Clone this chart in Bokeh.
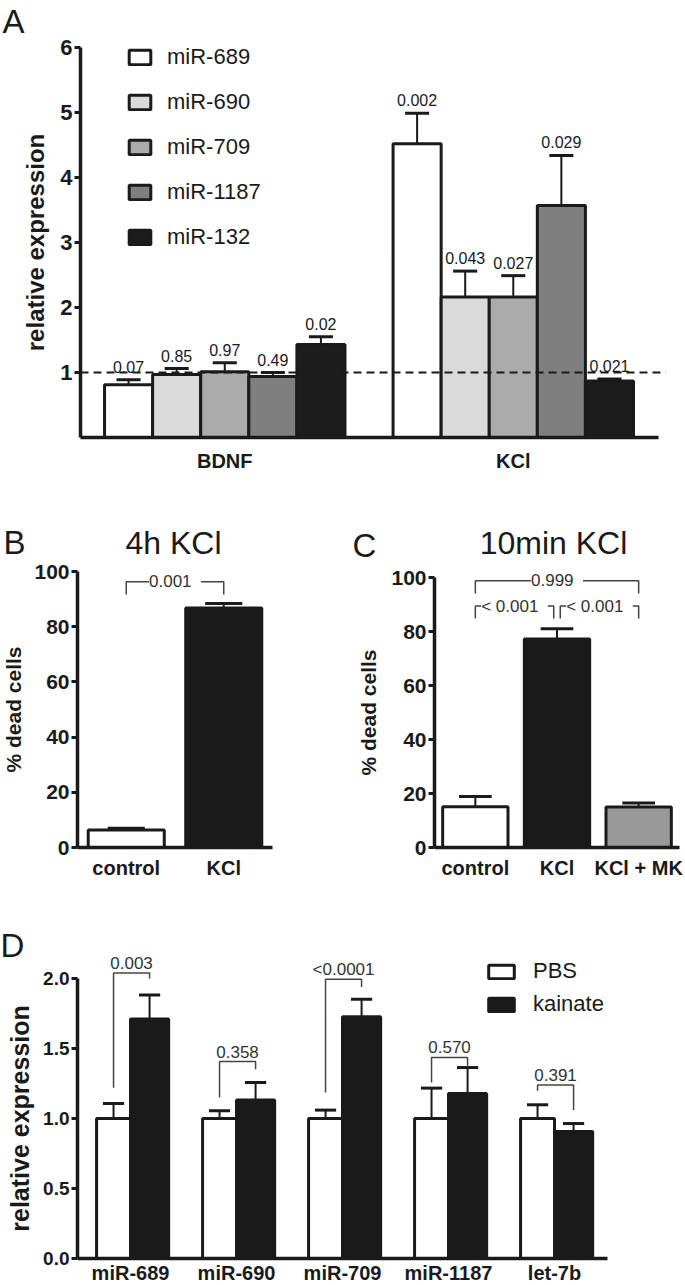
from bokeh.plotting import figure
from bokeh.models import (ColumnDataSource, FixedTicker, LabelSet, Label,
                          Legend, LegendItem, Range1d)
from bokeh.layouts import column, row
from bokeh.core.properties import value
from bokeh.embed import file_html
from bokeh.resources import INLINE

FONT = "Liberation Sans"
INK = "#1a1a1a"

# ---------------- data ----------------
# Panel A
a_groups = ["BDNF", "KCl"]
a_series = ["miR-689", "miR-690", "miR-709", "miR-1187", "miR-132"]
a_colors = ["#ffffff", "#dadada", "#ababab", "#7f7f7f", "#1c1c1c"]
a_bdnf_mean = [0.81, 0.97, 1.01, 0.94, 1.43]
a_bdnf_top = [0.89, 1.06, 1.15, 1.00, 1.55]
a_bdnf_p = ["0.07", "0.85", "0.97", "0.49", "0.02"]
a_kcl_mean = [4.52, 2.16, 2.16, 3.57, 0.87]
a_kcl_top = [4.99, 2.56, 2.49, 4.34, 0.90]
a_kcl_p = ["0.002", "0.043", "0.027", "0.029", "0.021"]
a_yticks = [1, 2, 3, 4, 5, 6]
a_ref = 1.0

# Panel B
b_conditions = ["control", "KCl"]
b_mean = [6.3, 86.8]
b_top = [7.0, 88.4]
b_colors = ["#ffffff", "#1a1a1a"]
b_br_left = ["control"]
b_br_right = ["KCl"]
b_br_y = [96.3]
b_br_leg = [91.7]
b_br_p = ["0.001"]

# Panel C
c_conditions = ["control", "KCl", "KCl + MK"]
c_mean = [15.1, 77.2, 15.0]
c_top = [18.9, 81.0, 16.5]
c_colors = ["#ffffff", "#1a1a1a", "#999999"]
c_br_left = ["control", "control", "KCl"]
c_br_right = ["KCl + MK", "KCl", "KCl + MK"]
c_br_y = [98.8, 89.4, 89.4]
c_br_leg = [94.1, 84.8, 84.8]
c_br_p = ["0.999", "< 0.001", "< 0.001"]
bc_yticks = [0, 20, 40, 60, 80, 100]

# Panel D
d_mirs = ["miR-689", "miR-690", "miR-709", "miR-1187", "let-7b"]
d_pbs_mean = [1.00, 1.00, 1.00, 1.00, 1.00]
d_pbs_top = [1.107, 1.055, 1.06, 1.217, 1.098]
d_kai_mean = [1.71, 1.133, 1.726, 1.179, 0.907]
d_kai_top = [1.883, 1.257, 1.852, 1.364, 0.964]
d_p = ["0.003", "0.358", "<0.0001", "0.570", "0.391"]
d_br_top = [2.04, 1.407, 1.995, 1.436, 1.24]
d_br_left_end = [1.22, 1.15, 1.186, 1.257, 1.198]
d_br_right_end = [2.0, 1.352, 1.94, 1.376, 1.06]
d_yticks = [0.0, 0.5, 1.0, 1.5, 2.0]


# ---------------- helpers ----------------
def make_fig(W, H, left, right, top, bottom, x0, x1, y0, y1, tick_size):
    """Figure whose frame fills the canvas; axes are pinned to the data box."""
    pxu = (W - left - right) / (x1 - x0)
    pyu = (H - top - bottom) / (y1 - y0)
    p = figure(width=W, height=H,
               x_range=Range1d(x0 - left / pxu, x1 + right / pxu),
               y_range=Range1d(y0 - bottom / pyu, y1 + top / pyu),
               min_border=0, output_backend="svg", toolbar_location=None)
    p.outline_line_color = None
    p.grid.visible = False
    p.background_fill_color = "white"
    p.border_fill_color = "white"
    p.xaxis.fixed_location = y0
    p.yaxis.fixed_location = x0
    p.xaxis.bounds = (x0, x1)
    p.yaxis.bounds = (y0, y1)
    for ax in p.axis:
        ax.axis_line_width = 3.5
        ax.axis_line_color = INK
        ax.major_tick_line_width = 3
        ax.major_tick_line_color = INK
        ax.major_tick_out = 6
        ax.major_tick_in = 0
        ax.minor_tick_line_color = None
        ax.major_label_text_font = FONT
        ax.major_label_text_font_style = "bold"
        ax.major_label_text_color = INK
        ax.major_label_text_font_size = tick_size
        ax.major_label_standoff = 2
        ax.axis_label_text_font = FONT
        ax.axis_label_text_font_style = "bold"
        ax.axis_label_text_color = INK
    p.xaxis.major_tick_line_color = None
    p.xaxis.major_tick_out = 0
    return p


LBL_SHIFT = 10  # screen-label baseline correction


def screen_label(p, text, x, y, size, align="left"):
    p.add_layout(Label(x=x, y=y + LBL_SHIFT, x_units="screen", y_units="screen", text=text,
                       text_font=FONT, text_font_size=size, text_color=INK,
                       text_align=align, text_baseline="alphabetic"))


def whiskers(p, xs, means, tops, capw, stem_w=2, cap_w=3):
    src = ColumnDataSource(dict(x=xs, m=means, t=tops,
                                xl=[x - capw / 2 for x in xs],
                                xr=[x + capw / 2 for x in xs]))
    p.segment(x0="x", y0="m", x1="x", y1="t", source=src, line_color=INK, line_width=stem_w)
    p.segment(x0="xl", y0="t", x1="xr", y1="t", source=src, line_color=INK, line_width=cap_w)


def cat_xaxis(p, cats, standoff, size):
    ticks = [i + 0.5 for i in range(len(cats))]
    p.xaxis.ticker = FixedTicker(ticks=ticks)
    p.xaxis.major_label_overrides = {t: c for t, c in zip(ticks, cats)}
    p.xaxis.major_label_standoff = standoff
    p.xaxis.major_label_text_font_size = size


def brackets(p, conds, lefts, rights, ys, legs, labels, inner=0.0):
    xs, yss, lx = [], [], []
    for l, r, y, g in zip(lefts, rights, ys, legs):
        xl = conds.index(l) + 0.5
        xr = conds.index(r) + 0.5
        if r == "KCl":
            xr -= inner
        if l == "KCl":
            xl += inner
        xs.append([xl, xl, xr, xr])
        yss.append([g, y, y, g])
        lx.append((xl + xr) / 2)
    p.multi_line(xs="xs", ys="ys", source=ColumnDataSource(dict(xs=xs, ys=yss)),
                 line_color="#444444", line_width=1.5)
    p.add_layout(LabelSet(x="x", y="y", text="t", source=ColumnDataSource(
        dict(x=lx, y=ys, t=[" " + s + " " for s in labels])),
        text_align="center", text_baseline="middle", text_font=value(FONT),
        text_font_size="17px", text_color="#333333",
        background_fill_color="white"))


FW = 685

# ---------------- Panel A ----------------
A_H = 478
nA = len(a_series)
a_x0, a_x1 = -0.5, len(a_groups) * (nA + 1) - 0.48
pA = make_fig(FW, A_H, 80, 27, 47, 41, a_x0, a_x1, 0, 6, "22px")
a_renderers = []
for si, name in enumerate(a_series):
    xs = [gi * (nA + 1) + si + 0.5 for gi in range(len(a_groups))]
    src = ColumnDataSource(dict(x=xs, top=[a_bdnf_mean[si], a_kcl_mean[si]]))
    r = pA.vbar(x="x", top="top", width=1.0, bottom=0, source=src,
                fill_color=a_colors[si], line_color=INK, line_width=3)
    a_renderers.append(r)
a_x = [gi * (nA + 1) + si + 0.5 for gi in range(len(a_groups)) for si in range(nA)]
a_means = a_bdnf_mean + a_kcl_mean
a_tops = a_bdnf_top + a_kcl_top
whiskers(pA, a_x, a_means, a_tops, 0.5)
pA.segment(x0=[a_x0], y0=[a_ref], x1=[a_x1 + 0.15], y1=[a_ref], line_color=INK,
           line_width=2, line_dash="8 5")
pA.add_layout(LabelSet(x="x", y="t", text="p", source=ColumnDataSource(
    dict(x=a_x, t=a_tops, p=a_bdnf_p + a_kcl_p)),
    y_offset=7, text_align="center", text_baseline="alphabetic",
    text_font=value(FONT), text_font_size="16px", text_color=INK))
pA.yaxis.ticker = FixedTicker(ticks=a_yticks)
pA.yaxis.axis_label = "relative expression"
pA.yaxis.axis_label_text_font_size = "24px"
pA.yaxis.axis_label_standoff = 8
pA.xaxis.ticker = FixedTicker(ticks=[gi * (nA + 1) + nA / 2 for gi in range(len(a_groups))])
pA.xaxis.major_label_overrides = {gi * (nA + 1) + nA / 2: g for gi, g in enumerate(a_groups)}
pA.xaxis.major_label_standoff = 12
pA.xaxis.major_label_text_font_size = "20px"
legA = Legend(items=[LegendItem(label=n, renderers=[r]) for n, r in zip(a_series, a_renderers)],
              location=(126, A_H - 44 - (5 * 26 + 4 * 19)),
              glyph_width=27, glyph_height=18, label_height=18, spacing=19,
              label_standoff=14, padding=0, margin=0, border_line_color=None,
              background_fill_alpha=0, label_text_font=FONT, label_text_font_size="22px",
              label_text_color=INK)
pA.add_layout(legA)
screen_label(pA, "A", 2, A_H - 31, "33px")

# ---------------- Panel B ----------------
BC_H = 402
B_W = 340
pB = make_fig(B_W, BC_H, 77, 68, 93, 33, 0, len(b_conditions), 0, 100, "21px")
b_x = [i + 0.5 for i in range(len(b_conditions))]
pB.vbar(x="x", top="m", width=0.78, source=ColumnDataSource(dict(x=b_x, m=b_mean, col=b_colors)),
        fill_color="col", line_color=INK, line_width=3)
whiskers(pB, b_x, b_mean, b_top, 0.38)
brackets(pB, b_conditions, b_br_left, b_br_right, b_br_y, b_br_leg, b_br_p)
pB.yaxis.ticker = FixedTicker(ticks=bc_yticks)
pB.yaxis.axis_label = "% dead cells"
pB.yaxis.axis_label_text_font_size = "21px"
pB.yaxis.axis_label_standoff = 6
cat_xaxis(pB, b_conditions, 9, "20px")
screen_label(pB, "B", 3, BC_H - 74, "33px")
screen_label(pB, "4h KCl", 173, BC_H - 74, "32px", "center")

# ---------------- Panel C ----------------
C_W = FW - B_W
pC = make_fig(C_W, BC_H, 94, 6, 99, 33, 0, len(c_conditions), 0, 100, "21px")
c_x = [i + 0.5 for i in range(len(c_conditions))]
pC.vbar(x="x", top="m", width=0.8, source=ColumnDataSource(dict(x=c_x, m=c_mean, col=c_colors)),
        fill_color="col", line_color=INK, line_width=3)
whiskers(pC, c_x, c_mean, c_top, 0.4)
brackets(pC, c_conditions, c_br_left, c_br_right, c_br_y, c_br_leg, c_br_p, inner=0.04)
pC.yaxis.ticker = FixedTicker(ticks=bc_yticks)
pC.yaxis.axis_label = "% dead cells"
pC.yaxis.axis_label_text_font_size = "21px"
pC.yaxis.axis_label_standoff = 8
cat_xaxis(pC, c_conditions, 9, "20px")
screen_label(pC, "C", 12, BC_H - 77, "33px")
screen_label(pC, "10min KCl", 213, BC_H - 74, "32px", "center")

# ---------------- Panel D ----------------
D_H = 405
pD = make_fig(FW, D_H, 77, 78, 98, 27, 0, len(d_mirs), 0, 2.0, "19px")
d_xp = [i + 0.5 - 0.16 for i in range(len(d_mirs))]
d_xk = [i + 0.5 + 0.18 for i in range(len(d_mirs))]
r_pbs = pD.vbar(x="x", top="m", width=0.32, source=ColumnDataSource(dict(x=d_xp, m=d_pbs_mean)),
                fill_color="white", line_color=INK, line_width=3)
r_kai = pD.vbar(x="x", top="m", width=0.36, source=ColumnDataSource(dict(x=d_xk, m=d_kai_mean)),
                fill_color="#1a1a1a", line_color=INK, line_width=3)
whiskers(pD, d_xp + d_xk, d_pbs_mean + d_kai_mean, d_pbs_top + d_kai_top, 0.2)
pD.multi_line(xs="xs", ys="ys", source=ColumnDataSource(dict(
    xs=[[a, a, b, b] for a, b in zip(d_xp, d_xk)],
    ys=[[l, t, t, r] for l, t, r in zip(d_br_left_end, d_br_top, d_br_right_end)])),
    line_color="#444444", line_width=1.5)
pD.add_layout(LabelSet(x="x", y="y", text="t", source=ColumnDataSource(dict(
    x=[(a + b) / 2 for a, b in zip(d_xp, d_xk)], y=d_br_top, t=d_p)),
    y_offset=4, text_align="center", text_baseline="alphabetic", text_font=value(FONT),
    text_font_size="17px", text_color="#333333"))
pD.yaxis.ticker = FixedTicker(ticks=d_yticks)
pD.yaxis.major_label_overrides = {t: f"{t:.1f}" for t in d_yticks}
pD.yaxis.axis_label = "relative expression"
pD.yaxis.axis_label_text_font_size = "25px"
pD.yaxis.axis_label_standoff = 6
cat_xaxis(pD, d_mirs, 3, "20px")
legD = Legend(items=[LegendItem(label="PBS", renderers=[r_pbs]),
                     LegendItem(label="kainate", renderers=[r_kai])],
              location=(485, D_H - 80 - (2 * 25 + 7)),
              glyph_width=32, glyph_height=17, label_height=17, spacing=7,
              label_standoff=16, padding=0, margin=0, border_line_color=None,
              background_fill_alpha=0, label_text_font=FONT, label_text_font_size="22px",
              label_text_color=INK)
pD.add_layout(legD)
screen_label(pD, "D", 0, D_H - 75, "33px")

layout = column(pA, row(pB, pC), pD)
open("out.html", "w").write(file_html(layout, INLINE))
